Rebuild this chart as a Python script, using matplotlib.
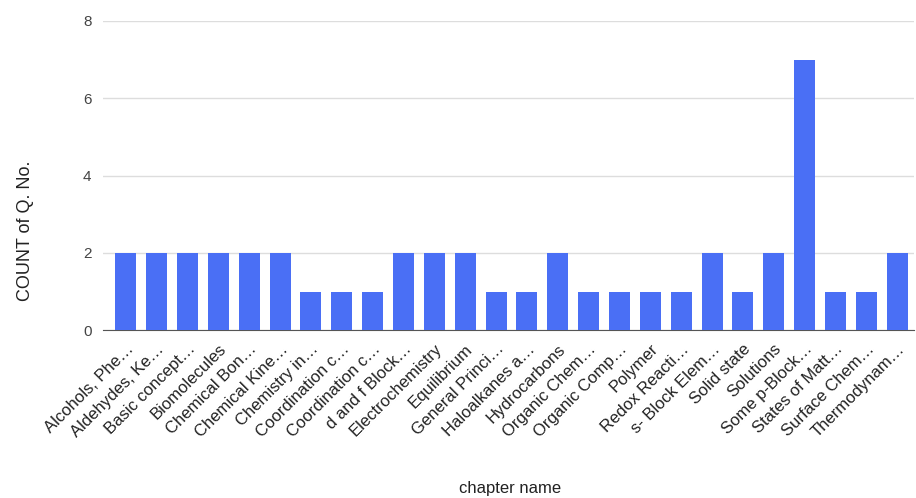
import matplotlib
matplotlib.use("Agg")
import matplotlib.pyplot as plt

plt.rcParams['font.family'] = ['Liberation Sans', 'DejaVu Sans']

chapters = [
    "Alcohols, Phe…", "Aldehydes, Ke…", "Basic concept…", "Biomolecules",
    "Chemical Bon…", "Chemical Kine…", "Chemistry in…", "Coordination c…",
    "Coordination c…", "d and f Block…", "Electrochemistry", "Equilibrium",
    "General Princi…", "Haloalkanes a…", "Hydrocarbons", "Organic Chem…",
    "Organic Comp…", "Polymer", "Redox Reacti…", "s- Block Elem…",
    "Solid state", "Solutions", "Some p-Block…", "States of Matt…",
    "Surface Chem…", "Thermodynam…",
]
counts = [2, 2, 2, 2, 2, 2, 1, 1, 1, 2, 2, 2, 1, 1, 2, 1, 1, 1, 1, 2, 1, 2, 7, 1, 1, 2]
yticks = [0, 2, 4, 6, 8]

fig = plt.figure(figsize=(9.16, 4.98), dpi=100)
ax = fig.add_axes([0.112, 0.337, 0.886, 0.621])

x = range(len(chapters))
ax.bar(x, counts, width=0.68, color='#4a6ff5', zorder=3)

ax.set_xlim(-0.75, len(chapters) - 0.45)
ax.set_ylim(0, 8)
ax.set_yticks(yticks)
ax.set_yticklabels([str(v) for v in yticks], fontsize=11, color='#444444')
ax.set_xticks(list(x))
ax.set_xticklabels(chapters, rotation=45, ha='right', rotation_mode='anchor',
                   fontsize=12, color='#222222')

ax.grid(axis='y', color='#dddddd', linewidth=1, zorder=0)
for s in ['top', 'right', 'left']:
    ax.spines[s].set_visible(False)
ax.spines['bottom'].set_color('#555555')
ax.tick_params(axis='both', length=0, pad=8)

ax.set_ylabel('COUNT of Q. No.', fontsize=13, color='#222222', labelpad=32)
ax.yaxis.set_label_coords(-0.084, 0.32)
fig.text(0.557, 0.01, 'chapter name', ha='center', fontsize=12, color='#222222')

fig.savefig('out.png', dpi=100)
